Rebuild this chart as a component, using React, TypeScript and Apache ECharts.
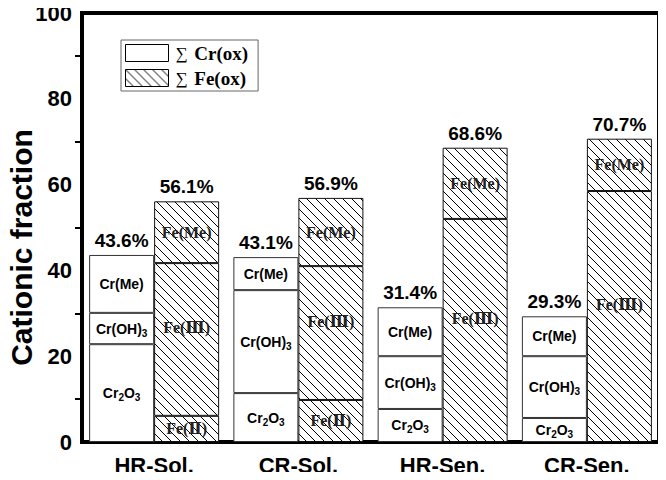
import React, { useEffect, useRef } from "react";
import * as echarts from "echarts";

// Sample groups on the x axis
const categories = ["HR-Sol.", "CR-Sol.", "HR-Sen.", "CR-Sen."];

// Chromium species, cationic fraction (%)
const cr2o3 = [22.8, 11.4, 7.7, 5.6];
const crOH3 = [7.3, 24.0, 12.3, 14.4];
const crMe = [13.5, 7.7, 11.4, 9.3];

// Iron species, cationic fraction (%)
const fe2 = [6.1, 9.8, null, null];
const fe3 = [35.6, 31.2, 52.0, 58.5];
const feMe = [14.4, 15.9, 16.6, 12.2];

const yTicks = [0, 20, 40, 60, 80, 100];

const SANS = "Arial, 'Liberation Sans', Helvetica, sans-serif";
const SERIF = "'Times New Roman', 'Liberation Serif', 'DejaVu Serif', serif";

function stackSum(cols: (number | null)[][], i: number): string {
  let s = 0;
  cols.forEach((c) => {
    s += c[i] ?? 0;
  });
  return s.toFixed(1) + "%";
}

function makeHatch(): string {
  const size = 9;
  const c = document.createElement("canvas");
  c.width = size;
  c.height = size;
  const ctx = c.getContext("2d")!;
  ctx.fillStyle = "#fff";
  ctx.fillRect(0, 0, size, size);
  ctx.strokeStyle = "#000";
  ctx.lineWidth = 1;
  for (const x0 of [-size, 0, size]) {
    ctx.beginPath();
    ctx.moveTo(x0, 0);
    ctx.lineTo(x0 + size, size);
    ctx.stroke();
  }
  return c.toDataURL();
}

export default function App() {
  const ref = useRef<HTMLDivElement>(null);

  useEffect(() => {
    if (!ref.current) return;
    const chart = echarts.init(ref.current, undefined, { renderer: "svg" });
    const hatch = {
      image: makeHatch(),
      repeat: "repeat",
      imageWidth: 9,
      imageHeight: 9,
    } as any;

    const crStyle = { color: "#fff", borderColor: "#333", borderWidth: 1 };
    const feStyle = { color: hatch, borderColor: "#111", borderWidth: 1 };

    const crLabel = (text: string) => ({
      show: true,
      position: "inside",
      formatter: text,
      color: "#000",
      fontFamily: SANS,
      fontWeight: "bold",
      fontSize: 14,
      rich: {
        sub: {
          fontFamily: SANS,
          fontWeight: "bold",
          fontSize: 10,
          color: "#000",
          verticalAlign: "bottom",
          padding: [9, 0, 0, 0],
        },
      },
    });
    const feLabel = (text: string, dy = 0) => ({
      show: true,
      position: "inside",
      offset: [0, dy],
      formatter: (p: any) => (p.value == null ? "" : text),
      color: "#222",
      fontFamily: SERIF,
      fontWeight: "bold",
      fontSize: 16,
    });
    const totalLabel = (cols: (number | null)[][]) => ({
      show: true,
      position: "top",
      distance: 5,
      formatter: (p: any) => stackSum(cols, p.dataIndex),
      color: "#000",
      fontFamily: SANS,
      fontWeight: "bold",
      fontSize: 19,
    });

    const common = { type: "bar", barWidth: 65, barGap: "0%" };

    chart.setOption({
      animation: false,
      grid: {
        left: 82,
        right: 7,
        top: 13,
        bottom: 38,
        containLabel: false,
        outerBoundsMode: "none",
        show: true,
        borderColor: "#000",
        borderWidth: 4,
      },
      legend: {
        left: 121,
        top: 40,
        orient: "vertical",
        selectedMode: false,
        itemWidth: 43,
        itemHeight: 17,
        itemGap: 5,
        padding: [3, 10, 3, 4],
        borderColor: "#666",
        borderWidth: 1,
        formatter: (name: string) => `{s|∑}  {b|${name}}`,
        textStyle: {
          lineHeight: 20,
          rich: {
            s: { fontFamily: SERIF, fontSize: 17, color: "#000", lineHeight: 20, padding: [0, 0, 0, 2] },
            b: { fontFamily: SERIF, fontSize: 19, fontWeight: "bold", color: "#000", lineHeight: 20 },
          },
        },
        data: [
          { name: "Cr(ox)", icon: "rect", itemStyle: { color: "#fff", borderColor: "#000", borderWidth: 1 } },
          { name: "Fe(ox)", icon: "rect", itemStyle: { color: hatch, borderColor: "#000", borderWidth: 1 } },
        ],
      },
      xAxis: {
        type: "category",
        data: categories,
        axisLine: { lineStyle: { color: "#000", width: 4 } },
        axisTick: { show: false },
        axisLabel: {
          color: "#000",
          fontFamily: SANS,
          fontWeight: "bold",
          fontSize: 22,
          margin: 12,
        },
      },
      yAxis: {
        type: "value",
        min: yTicks[0],
        max: yTicks[yTicks.length - 1],
        interval: yTicks[1] - yTicks[0],
        name: "Cationic fraction",
        nameLocation: "middle",
        nameGap: 46,
        nameMoveOverlap: false,
        nameTextStyle: {
          color: "#000",
          fontFamily: SANS,
          fontWeight: "bold",
          fontSize: 30,
          padding: [0, 40, 0, 0],
        },
        axisLine: { show: true, lineStyle: { color: "#000", width: 4 } },
        axisTick: { show: true, length: 0, lineStyle: { width: 0 } },
        minorTick: { show: true, splitNumber: 2, length: 7, lineStyle: { color: "#000", width: 2 } },
        splitLine: { show: false },
        axisLabel: {
          color: "#000",
          fontFamily: SANS,
          fontWeight: "bold",
          fontSize: 22,
          margin: 10,
        },
      },
      series: [
        { ...common, name: "Cr2O3", stack: "cr", data: cr2o3, itemStyle: crStyle, label: crLabel("Cr{sub|2}O{sub|3}") },
        { ...common, name: "Cr(OH)3", stack: "cr", data: crOH3, itemStyle: crStyle, label: crLabel("Cr(OH){sub|3}") },
        { ...common, name: "Cr(Me)", stack: "cr", data: crMe, itemStyle: crStyle, label: crLabel("Cr(Me)") },
        {
          ...common,
          name: "Cr(ox)",
          stack: "cr",
          data: categories.map(() => 0),
          itemStyle: { color: "transparent", borderWidth: 0 },
          label: totalLabel([cr2o3, crOH3, crMe]),
        },
        { ...common, name: "Fe(II)", stack: "fe", data: fe2, itemStyle: feStyle, label: feLabel("Fe(Ⅱ)") },
        { ...common, name: "Fe(III)", stack: "fe", data: fe3, itemStyle: feStyle, label: feLabel("Fe(Ⅲ)", -12) },
        { ...common, name: "Fe(Me)", stack: "fe", data: feMe, itemStyle: feStyle, label: feLabel("Fe(Me)") },
        {
          ...common,
          name: "Fe(ox)",
          stack: "fe",
          data: categories.map(() => 0),
          itemStyle: { color: "transparent", borderWidth: 0 },
          label: totalLabel([fe2, fe3, feMe]),
        },
      ],
    });
    return () => chart.dispose();
  }, []);

  return <div ref={ref} style={{ width: 666, height: 480, margin: -8 }} />;
}
